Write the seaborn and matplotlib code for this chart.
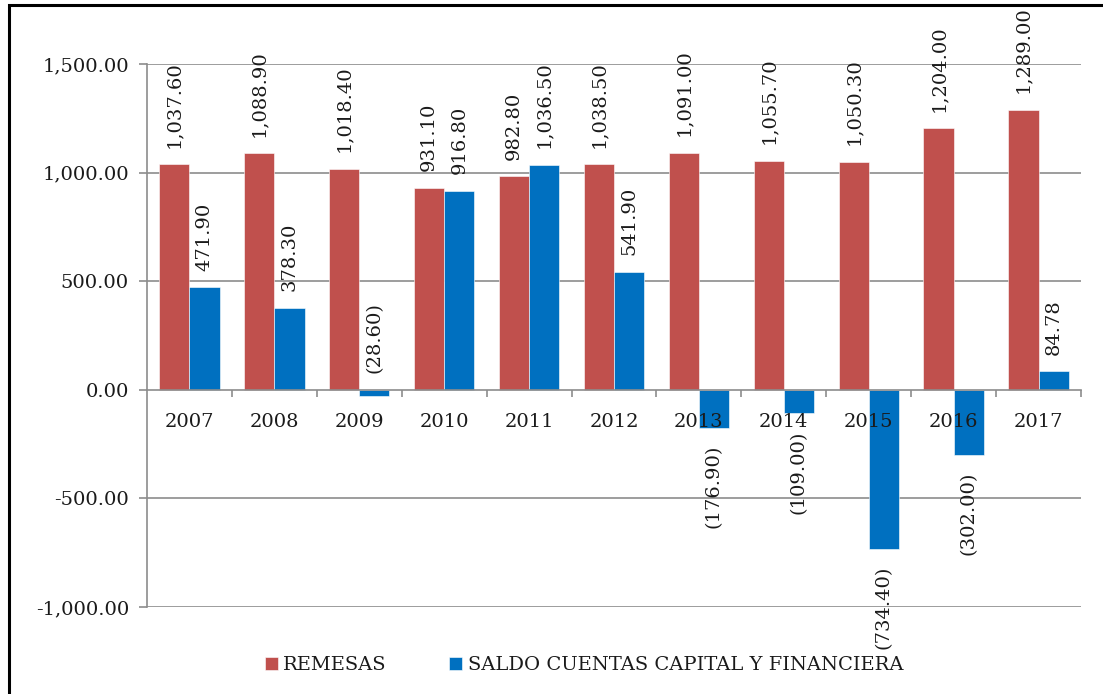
import seaborn as sns
import matplotlib.pyplot as plt
import matplotlib.patches as mpatches
from matplotlib.ticker import FuncFormatter, FixedLocator
import pandas as pd

years = ['2007', '2008', '2009', '2010', '2011', '2012', '2013', '2014', '2015', '2016', '2017']
remesas = [1037.6, 1088.9, 1018.4, 931.1, 982.8, 1038.5, 1091.0, 1055.7, 1050.3, 1204.0, 1289.0]
saldo = [471.9, 378.3, -28.6, 916.8, 1036.5, 541.9, -176.9, -109.0, -734.4, -302.0, 84.78]
series = ['REMESAS', 'SALDO CUENTAS CAPITAL Y FINANCIERA']
colors = ['#C0504D', '#0070C0']

df = pd.DataFrame({
    'year': years * 2,
    'value': remesas + saldo,
    'serie': [series[0]] * len(years) + [series[1]] * len(years),
})

sns.set_theme(style='white')
plt.rcParams['font.family'] = ['DejaVu Serif']
plt.rcParams['text.color'] = '#1a1a1a'

fig = plt.figure(figsize=(11.03, 6.94), dpi=100)
ax = fig.add_axes([147 / 1103, 1 - 607 / 694, (1081 - 147) / 1103, (607 - 64) / 694])

sns.barplot(data=df, x='year', y='value', hue='serie', palette=colors,
            width=0.71, saturation=1, ax=ax, zorder=2,
            edgecolor='white', linewidth=0.4)

def fmt_label(v):
    if v < 0:
        return f'({abs(v):,.2f})'
    return f'{v:,.2f}'

# data labels, rotated; small negatives sit above the zero line
for cont in ax.containers:
    for bar in cont:
        v = bar.get_height()
        xc = bar.get_x() + bar.get_width() / 2
        if v >= 0 or v > -50:
            ax.annotate(fmt_label(v), (xc, max(v, 0)), xytext=(0, 12),
                        textcoords='offset points', rotation=90,
                        ha='center', va='bottom', fontsize=14, color='#1a1a1a')
        else:
            ax.annotate(fmt_label(v), (xc, v), xytext=(0, -12),
                        textcoords='offset points', rotation=90,
                        ha='center', va='top', fontsize=14, color='#1a1a1a')

ax.set_ylim(-1000, 1500)
ax.set_xlim(-0.5, len(years) - 0.5)
ax.yaxis.set_major_locator(FixedLocator([-1000, -500, 0, 500, 1000, 1500]))
ax.yaxis.set_major_formatter(FuncFormatter(lambda v, p: f'{v:,.2f}'))

# gridlines behind bars
for t in [-1000, -500, 500, 1000, 1500]:
    ax.axhline(t, color='#8c8c8c', lw=1.2, zorder=0)
ax.grid(False)
ax.set_axisbelow(False)

for s in ['top', 'right']:
    ax.spines[s].set_visible(False)
ax.spines['left'].set_color('#8c8c8c')
ax.spines['left'].set_linewidth(1.2)
ax.spines['bottom'].set_position(('data', 0))
ax.spines['bottom'].set_color('#8c8c8c')
ax.spines['bottom'].set_linewidth(1.2)

ax.tick_params(axis='y', which='major', length=6, width=1.2, color='#8c8c8c',
               pad=7, labelsize=14, labelcolor='#1a1a1a', left=True)
ax.tick_params(axis='x', which='major', length=0, pad=17, labelsize=14,
               labelcolor='#1a1a1a')
ax.set_xticks([i - 0.5 for i in range(1, len(years) + 1)], minor=True)
ax.tick_params(axis='x', which='minor', length=5, width=1.2, color='#8c8c8c',
               bottom=True, direction='out')
ax.set_xlabel('')
ax.set_ylabel('')

handles, labels = ax.get_legend_handles_labels()
ax.get_legend().remove()
fig.legend(handles, labels, loc='center', bbox_to_anchor=(584 / 1103, 1 - 665 / 694),
           ncol=2, frameon=False, fontsize=14, handlelength=0.65, handleheight=0.65,
           handletextpad=0.3, columnspacing=3.2)

# outer frame of the chart image
frame = mpatches.Rectangle((8.5 / 1103, -0.1), 1.2, 1.1 - 5.5 / 694,
                           transform=fig.transFigure, fill=False,
                           edgecolor='black', lw=2.2, clip_on=False)
fig.patches.append(frame)

fig.savefig('out.png', dpi=100)
